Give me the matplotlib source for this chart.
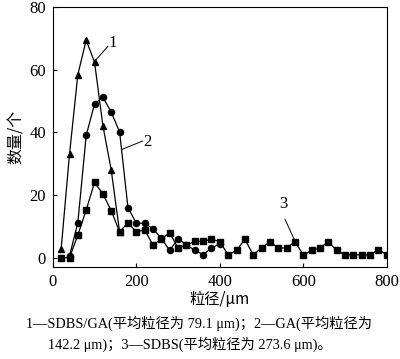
import matplotlib
matplotlib.use("Agg")
import matplotlib.pyplot as plt

# Series 1: SDBS/GA (triangles)
x1 = [20, 40, 60, 80, 100, 120, 140, 160]
y1 = [2.8, 33, 58.4, 69.4, 62.3, 42.1, 27.9, 8.2]

# Series 2: GA (circles)
x2 = [40, 60, 80, 100, 120, 140, 160, 180, 200, 220, 240, 260, 280, 300, 320, 340, 360, 380, 400]
y2 = [0.5, 11.2, 39, 49, 51.2, 46.4, 40.1, 16, 11, 11, 9.2, 6.2, 2.3, 6.1, 4.1, 2.4, 1.0, 3.0, 4.5]

# Series 3: SDBS (squares)
x3 = list(range(20, 801, 20))
y3 = [0, 0, 7.2, 15.2, 24, 20.3, 15, 8.2, 11.2, 8.2, 8.9, 4.0, 6.0, 8.0, 3.0, 4.0, 5.2, 5.2, 5.9, 5.1,
      0.9, 2.3, 5.9, 0.9, 3.1, 5.1, 3.1, 3.1, 5.1, 0.9, 2.3, 3.1, 5.1, 2.3, 0.9, 0.9, 0.9, 0.9, 2.5, 1.0]

xticks = [0, 200, 400, 600, 800]
yticks = [0, 20, 40, 60, 80]

cjk = ["Noto Sans CJK SC", "Liberation Serif", "DejaVu Sans"]
mixed = ["Liberation Serif", "Noto Sans CJK SC"]

fig = plt.figure(figsize=(4.0, 3.59), dpi=100)
ax = fig.add_axes([0.132, 0.256, 0.835, 0.725])

kw = dict(color="black", lw=0.9)
ax.plot(x1, y1, marker="^", ms=4.8, **kw)
ax.plot(x2, y2, marker="o", ms=4.4, **kw)
ax.plot(x3, y3, marker="s", ms=4.0, **kw)

ax.set_xlim(0, 800)
ax.set_ylim(-3, 80)
ax.set_xticks(xticks)
ax.set_yticks(yticks)
ax.tick_params(direction="in", length=3, width=0.8, labelsize=12, pad=5)
for lab in ax.get_xticklabels() + ax.get_yticklabels():
    lab.set_fontfamily("Liberation Serif")
for s in ax.spines.values():
    s.set_linewidth(0.8)

# leader labels
ax.plot([102, 132], [62.9, 67.4], color="black", lw=0.7)
ax.text(133, 68.6, "1", fontfamily="Liberation Serif", fontsize=12, ha="left", va="center")
ax.plot([165, 215], [34.5, 37.2], color="black", lw=0.7)
ax.text(217, 37.0, "2", fontfamily="Liberation Serif", fontsize=12, ha="left", va="center")
ax.plot([556, 580], [12.3, 5.3], color="black", lw=0.7)
ax.text(551, 14.5, "3", fontfamily="Liberation Serif", fontsize=12, ha="center", va="bottom")

ax.set_xlabel("粒径/μm", fontfamily=cjk, fontsize=11, labelpad=1)
ax.set_ylabel("数量/个", fontfamily=cjk, fontsize=11.5, labelpad=3)

fig.text(0.497, 1 - 323 / 359, "1—SDBS/GA(平均粒径为 79.1 μm)；2—GA(平均粒径为",
         fontfamily=mixed, fontsize=10.3, ha="center", va="center")
fig.text(0.475, 1 - 344 / 359, "142.2 μm)；3—SDBS(平均粒径为 273.6 μm)。",
         fontfamily=mixed, fontsize=10.3, ha="center", va="center")

fig.savefig("out.png", dpi=100)
